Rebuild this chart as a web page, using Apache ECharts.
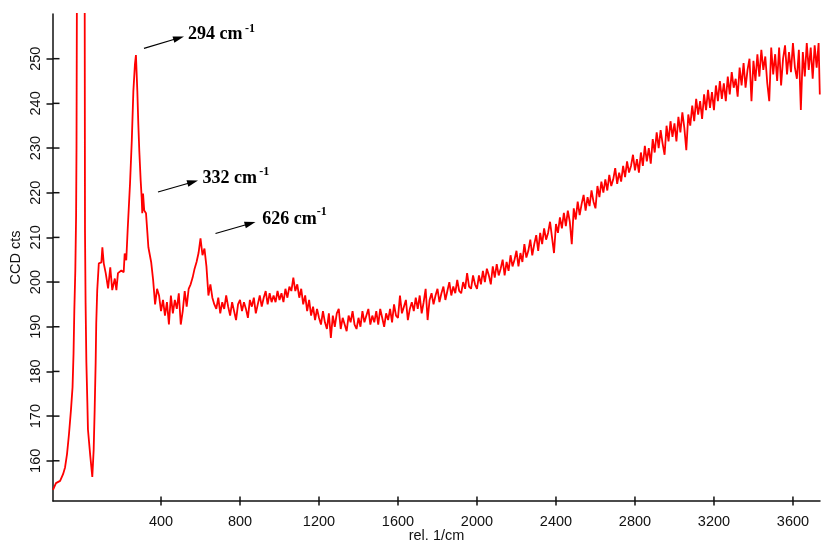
<!DOCTYPE html>
<html><head><meta charset="utf-8">
<script src="https://cdn.jsdelivr.net/npm/echarts@6/dist/echarts.min.js"></script>
<style>html,body{margin:0;padding:0;background:#fff}#c{width:821px;height:543px}</style>
</head><body><div id="c"></div>
<script>
// Raman shift (rel. 1/cm)
const wavenumber = [
-147,-132,-111,-96,-86,-76,-66,-56,-48,-43,-39,-34,-30,-28,-25,-10,0,8,13,15,
18,22,27,30,42,52,59,64,69,72,77,85,98,103,110,120,132,143,153,166,
174,182,199,211,216,224,231,243,252,260,268,273,280,285,290,297,302,305,309,315,
324,331,336,
350,360,370,380,390,400,410,420,430,440,450,460,470,480,490,500,510,520,530,540,
550,560,570,580,590,600,610,620,630,640,650,
660,670,680,690,700,710,720,730,740,750,760,770,780,790,800,810,820,830,840,850,
860,870,880,890,900,910,920,930,940,950,960,970,980,990,1000,1010,1020,1030,1040,1050,
1060,1070,1080,1090,1100,1110,1120,1130,1140,1150,1160,1170,1180,1190,1200,1210,1220,1230,1240,1250,
1260,1270,1280,1290,1300,1310,1320,1330,1340,1350,1360,1370,1380,1390,1400,1410,1420,1430,1440,1450,
1460,1470,1480,1490,1500,1510,1520,1530,1540,1550,1560,1570,1580,1590,1600,1610,1620,1630,1640,1650,
1660,1670,1680,1690,1700,1710,1720,1730,1740,1750,1760,1770,1780,1790,1800,1810,1820,1830,1840,1850,
1860,1870,1880,1890,1900,1910,1920,1930,1940,1950,1960,1970,1980,1990,2000,
2010,2020,2030,2040,2050,2060,2070,2080,2090,2100,2110,2120,2130,2140,2150,2160,2170,2180,2190,2200,
2210,2220,2230,2240,2250,2260,2270,2280,2290,2300,2310,2320,2330,2340,2350,2360,2370,2380,2390,2400,
2410,2420,2430,2440,2450,2460,2470,2480,2490,2500,2510,2520,2530,2540,2550,2560,2570,2580,2590,2600,
2610,2620,2630,2640,2650,2660,2670,2680,2690,2700,2710,2720,2730,2740,2750,2760,2770,2780,2790,2800,
2810,2820,2830,2840,2850,2860,2870,2880,2890,2900,2910,2920,2930,2940,2950,2960,2970,2980,2990,3000,
3010,3020,3030,3040,3050,3060,3070,3080,3090,3100,3110,3120,3130,3140,3150,3160,3170,3180,3190,3200,
3210,3220,3230,3240,3250,3260,3270,3280,3290,3300,3310,3320,3330,3340,3350,3360,3370,3380,3390,3400,
3410,3420,3430,3440,3450,3460,3470,3480,3490,3500,3510,3520,3530,3540,3550,3560,3570,3580,3590,3600,
3610,3620,3630,3640,3650,3660,3670,3680,3690,3700,3710,3720,3730,3736
];
// CCD counts
const counts = [
153.5,155.0,155.5,157.0,158.5,161.5,166.0,171.4,176.5,184.0,193.7,202.6,215.0,230.0,280.0,500,700,500,280,211.6,
195.3,182.0,173.0,167.0,161.0,156.4,162.5,171.4,182.0,190.8,198.2,204.2,204.4,207.8,204.2,202.0,198.6,203.3,198.2,200.8,
198.2,202.0,202.6,202.2,206.4,204.9,211.6,222.0,231.7,242.8,248.8,250.8,242.8,235.4,229.4,222.7,218.9,215.4,219.8,216.0,
215.4,211.0,207.8,
204.5,200.5,195.0,198.5,197.0,193.5,196.0,192.5,195.5,190.5,197.0,193.0,196.0,194.0,197.5,190.5,193.5,198.0,194.5,198.5,
199.5,201.0,203.0,204.5,206.5,209.8,206.0,207.5,203.5,197.0,199.5,
196.5,195.0,194.0,196.5,193.0,195.5,194.0,197.0,194.5,192.5,195.5,193.5,191.5,195.0,196.0,193.5,195.5,194.0,192.0,196.0,
194.5,196.5,193.0,195.0,197.0,194.5,196.5,198.0,195.0,197.5,195.5,197.0,195.5,198.0,196.0,197.5,195.5,198.5,196.5,199.0,
198.0,201.0,198.0,199.5,196.5,198.5,195.0,197.0,193.5,196.0,192.5,194.5,191.5,194.0,192.0,190.5,193.5,191.0,189.5,193.0,
187.5,192.5,190.0,193.0,194.0,189.5,192.0,190.5,189.0,192.5,191.0,193.5,190.5,189.5,192.0,190.0,193.5,191.0,192.5,194.0,
190.5,192.5,191.0,193.5,190.5,194.0,192.0,190.0,193.0,191.5,194.0,191.0,195.0,192.5,192.0,197.0,193.0,194.5,196.0,191.5,
194.0,195.5,193.5,196.5,194.0,197.0,193.0,195.5,198.5,191.5,196.0,197.5,195.0,197.0,198.5,195.5,197.5,199.0,196.0,198.0,
200.0,197.0,199.0,197.5,200.5,198.0,197.5,200.0,198.5,202.0,199.0,198.5,201.5,199.5,198.5,
201.5,199.5,202.5,200.0,203.0,201.5,199.5,203.5,201.0,204.0,201.5,203.0,205.0,201.5,204.5,202.5,206.0,203.5,205.0,207.0,
203.5,206.5,204.5,208.5,205.5,207.0,209.5,206.0,208.5,210.5,207.0,211.0,208.5,212.0,209.5,211.0,213.5,210.0,206.5,213.0,
211.0,214.5,212.0,215.5,212.5,216.0,213.5,208.5,216.5,214.0,218.0,215.0,217.5,219.5,216.0,219.0,217.0,220.5,218.0,216.5,
221.5,219.0,222.5,220.0,223.0,220.5,224.0,221.5,223.0,225.5,222.0,224.5,222.5,226.0,223.5,227.0,224.5,226.0,228.5,225.0,
227.5,224.5,229.0,226.0,230.5,227.0,230.0,226.5,232.0,229.0,233.5,230.0,234.0,231.0,228.5,235.0,231.5,236.0,232.5,235.5,
231.5,237.0,233.5,238.0,234.5,229.5,237.5,235.0,239.5,236.0,241.0,237.5,240.5,236.5,242.0,238.5,243.0,239.0,242.5,238.5,
244.0,240.5,245.0,241.0,244.5,240.5,246.0,242.0,247.0,243.5,245.5,241.5,248.0,244.0,249.0,243.5,247.5,250.0,240.5,249.5,
245.0,251.0,246.0,252.0,247.5,250.5,244.5,240.5,252.5,246.5,251.0,245.0,252.5,244.0,250.0,253.0,246.5,251.5,247.0,253.5,
248.0,245.5,252.0,238.5,251.5,246.0,253.5,247.5,252.5,245.5,253.0,248.0,253.5,242.0
];
const xTicks = [400, 800, 1200, 1600, 2000, 2400, 2800, 3200, 3600];
const yTicks = [160, 170, 180, 190, 200, 210, 220, 230, 240, 250];
const peakLabels = ['294 cm', '332 cm', '626 cm'];
const peakSup = '-1';

const chart = echarts.init(document.getElementById('c'), null, {renderer: 'canvas'});
const AX = '#111';
const X_MIN = -147, X_MAX = 3737, Y_MIN = 151, Y_MAX = 260;
const labelFont = {fontFamily: 'Liberation Sans', fontSize: 14.5, color: AX};
const plain = v => String(v);

// inner halves of the crossing ticks, placed through the axis scales
function innerTicks(isX) {
  return {
    type: 'custom', silent: true, clip: false, z: 5,
    data: isX ? xTicks.map(v => [v, Y_MIN]) : yTicks.map(v => [X_MIN, v]),
    renderItem: function (params, api) {
      const p = api.coord([api.value(0), api.value(1)]);
      return {
        type: 'line',
        shape: isX ? {x1: p[0], y1: p[1], x2: p[0], y2: p[1] - 4.5} : {x1: p[0], y1: p[1], x2: p[0] + 6.5, y2: p[1]},
        style: {stroke: AX, lineWidth: 1.5}
      };
    }
  };
}

function arrow(x1, y1, x2, y2) {
  const dx = x2 - x1, dy = y2 - y1, L = Math.hypot(dx, dy);
  const ux = dx / L, uy = dy / L, hl = 11, hw = 3.3;
  const bx = x2 - ux * hl, by = y2 - uy * hl;
  return [
    {type: 'line', shape: {x1: x1, y1: y1, x2: bx + ux * 2, y2: by + uy * 2}, style: {stroke: '#000', lineWidth: 1.2}},
    {type: 'polygon', shape: {points: [[x2, y2], [bx - uy * hw, by + ux * hw], [bx + uy * hw, by - ux * hw]]}, style: {fill: '#000'}}
  ];
}
function label(x, y, sx, sy, txt) {
  return [
    {type: 'text', x: x, y: y, style: {text: txt, font: 'bold 18px "Liberation Serif"', fill: '#000', verticalAlign: 'middle', align: 'left'}},
    {type: 'text', x: sx, y: sy, style: {text: peakSup, font: 'bold 12px "Liberation Serif"', fill: '#000', verticalAlign: 'middle', align: 'left'}}
  ];
}
const graphics = [].concat(
  arrow(144, 48.3, 184, 36.5), label(188, 34.6, 245, 28.5, peakLabels[0]),
  arrow(158, 192, 198, 180.5), label(202.5, 178, 259.3, 172, peakLabels[1]),
  arrow(215.5, 233.5, 255.5, 222), label(262.3, 219.6, 316.8, 212, peakLabels[2])
);

chart.setOption({
  animation: false,
  backgroundColor: '#fff',
  grid: {left: 53, right: 1, top: 14, bottom: 42, containLabel: false, outerBoundsMode: 'none'},
  xAxis: {
    type: 'value', min: X_MIN, max: X_MAX,
    axisLine: {show: true, onZero: false, lineStyle: {color: AX, width: 1.5}},
    axisTick: {show: true, length: 4.5, customValues: xTicks, lineStyle: {color: AX, width: 1.5}},
    axisLabel: Object.assign({margin: 13, customValues: xTicks, formatter: plain}, labelFont),
    splitLine: {show: false},
    name: 'rel. 1/cm', nameLocation: 'middle', nameGap: 27, nameMoveOverlap: false, nameTextStyle: labelFont
  },
  yAxis: {
    type: 'value', min: Y_MIN, max: Y_MAX,
    axisLine: {show: true, onZero: false, lineStyle: {color: AX, width: 1.5}},
    axisTick: {show: true, length: 6.5, customValues: yTicks, lineStyle: {color: AX, width: 1.5}},
    axisLabel: Object.assign({margin: 10, rotate: 90, customValues: yTicks, formatter: plain}, labelFont),
    splitLine: {show: false},
    name: 'CCD cts', nameLocation: 'middle', nameGap: 30, nameMoveOverlap: false, nameTextStyle: labelFont
  },
  series: [{
    type: 'line',
    data: wavenumber.map((w, i) => [w, counts[i]]),
    showSymbol: false,
    clip: true,
    lineStyle: {color: '#ff0000', width: 1.8},
    itemStyle: {color: '#ff0000'}
  }, innerTicks(true), innerTicks(false)],
  graphic: graphics
});
</script>
</body></html>
